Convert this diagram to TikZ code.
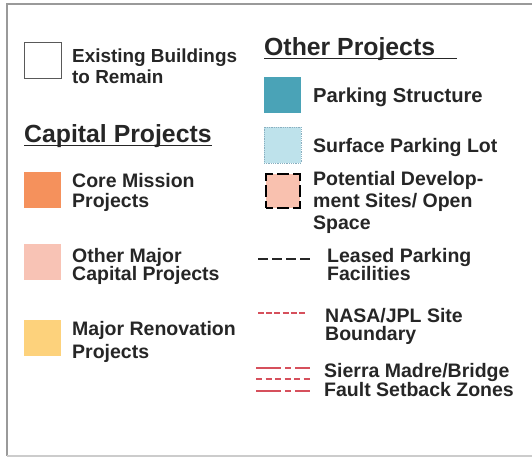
\documentclass[tikz,border=0pt]{standalone}
\usepackage{fontspec}
\setmainfont{Liberation Sans}
\definecolor{textgray}{HTML}{262626}
\definecolor{framegray}{HTML}{9A9A9A}
\definecolor{coreorange}{HTML}{F5915C}
\definecolor{majorpink}{HTML}{F8C3B5}
\definecolor{renoyellow}{HTML}{FDD27C}
\definecolor{parkteal}{HTML}{4AA3B7}
\definecolor{surfblue}{HTML}{BEE2EB}
\definecolor{surfedge}{HTML}{8AAFC0}
\definecolor{devpink}{HTML}{F9C1AF}
\definecolor{faultred}{HTML}{D6505C}
\begin{document}
\begin{tikzpicture}[x=1pt,y=-1pt,
  txt/.style={inner sep=0pt, anchor=base west, text=textgray,
    font=\fontsize{19.5}{21}\selectfont\bfseries},
  txtsm/.style={txt, font=\fontsize{18.9}{21}\selectfont\bfseries},
  txtlg/.style={txt, font=\fontsize{20.2}{21}\selectfont\bfseries},
  head/.style={inner sep=0pt, anchor=base west, text=textgray,
    font=\fontsize{24.8}{27}\selectfont\bfseries},
  swatch/.style={minimum width=37pt, minimum height=36pt, inner sep=0pt, anchor=north west, outer sep=0pt},
  redline/.style={draw=faultred, line width=1.6pt},
]
\useasboundingbox (0,0) rectangle (532,458);

% frame
\draw[framegray, line width=1.8pt] (532,4) -- (7,4) -- (7,456);
\draw[black!20, line width=1.2pt] (7,456) -- (532,456);

% ---- left column ----
\node[swatch, draw=black!65, line width=0.8pt, fill=white] (exsw) at (24,42) {};
\node[txtsm] (ex1) at (72,62) {Existing Buildings};
\node[txtsm] (ex2) at (72,83) {to Remain};

\node[head] (caphead) at (24,142) {Capital Projects};
\draw[textgray, line width=1.4pt] (24,145.5) -- (212,145.5);

\node[swatch, fill=coreorange] (coresw) at (24,172) {};
\node[txt] (core1) at (72,187) {Core Mission};
\node[txt] (core2) at (72,207) {Projects};

\node[swatch, fill=majorpink] (majsw) at (24,244) {};
\node[txt] (maj1) at (72,262) {Other Major};
\node[txt] (maj2) at (72,280) {Capital Projects};

\node[swatch, fill=renoyellow] (renosw) at (24,320) {};
\node[txt] (reno1) at (72,335) {Major Renovation};
\node[txt] (reno2) at (72,358) {Projects};

% ---- right column ----
\node[head] (othhead) at (264,55) {Other Projects};
\draw[textgray, line width=1.4pt] (264,58.5) -- (457,58.5);

\node[swatch, fill=parkteal] (parksw) at (264,77) {};
\node[txtlg] (park1) at (313,102) {Parking Structure};

\node[swatch, fill=surfblue, draw=surfedge, line width=0.8pt, densely dotted] (surfsw) at (264,127) {};
\node[txt] (surf1) at (313,152) {Surface Parking Lot};

\node[swatch, minimum width=34pt, minimum height=34pt, fill=devpink, draw=black,
      line width=2.6pt, dash pattern=on 14pt off 4pt on 12pt off 4pt, dash phase=7pt] (devsw) at (266,174) {};
\node[txt] (dev1) at (313,185) {Potential Develop-};
\node[txt] (dev2) at (313,207) {ment Sites/ Open};
\node[txt] (dev3) at (313,229) {Space};

% leased parking: black dashes
\coordinate (lsA) at (258,259);
\coordinate (lsB) at (311,259);
\draw[black!85, line width=2pt, dash pattern=on 9.5pt off 4.5pt] (lsA) -- (lsB);
\node[txt] (lease1) at (327,262) {Leased Parking};
\node[txt] (lease2) at (327,280) {Facilities};

% site boundary: fine red dashes
\coordinate (naA) at (258,313);
\coordinate (naB) at (307,313);
\draw[faultred, line width=1.4pt, dash pattern=on 6pt off 2.2pt] (naA) -- (naB);
\node[txt] (nasa1) at (325,322) {NASA/JPL Site};
\node[txt] (nasa2) at (325,340) {Boundary};

% fault setback zones: three red lines
\coordinate (smA) at (256,368);
\coordinate (smB) at (310,368);
\coordinate (smC) at (256,379);
\coordinate (smD) at (310,379);
\coordinate (smE) at (256,391);
\coordinate (smF) at (310,391);
\draw[redline, dash pattern=on 25pt off 4pt on 6pt off 4pt] (smA) -- (smB);
\draw[redline, dash pattern=on 6pt off 3.5pt] (smC) -- (smD);
\draw[redline, dash pattern=on 25pt off 4pt on 6pt off 4pt] (smE) -- (smF);
\node[txt] (sm1) at (324,377) {Sierra Madre/Bridge};
\node[txt] (sm2) at (324,396) {Fault Setback Zones};
\end{tikzpicture}
\end{document}
